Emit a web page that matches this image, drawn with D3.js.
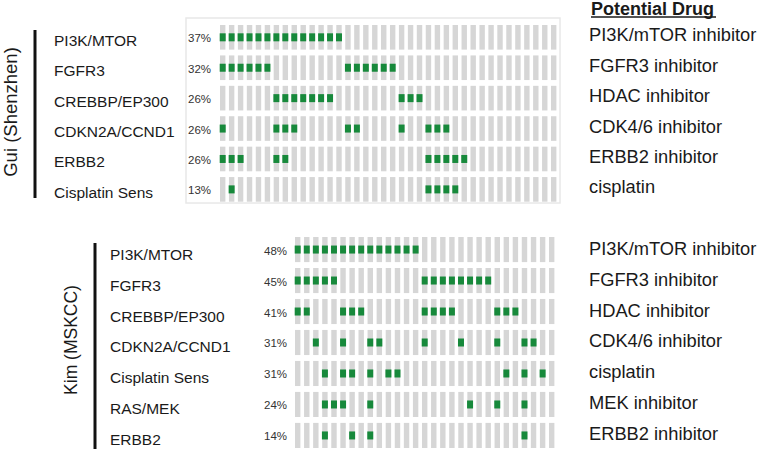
<!DOCTYPE html>
<html>
<head>
<meta charset="utf-8">
<script src="https://cdn.jsdelivr.net/npm/d3@7"></script>
<style>
  body { margin: 0; background: #fff; }
  svg { display: block; font-family: "Liberation Sans", Arial, sans-serif; }
</style>
</head>
<body>
<script>
// ---- data ----
var guiRows = ["PI3K/MTOR", "FGFR3", "CREBBP/EP300", "CDKN2A/CCND1", "ERBB2", "Cisplatin Sens"];
var guiPct = ["37%", "32%", "26%", "26%", "26%", "13%"];
var guiDrugs = ["PI3K/mTOR inhibitor", "FGFR3 inhibitor", "HDAC inhibitor", "CDK4/6 inhibitor", "ERBB2 inhibitor", "cisplatin"];
var guiN = 38;
// altered samples (column index) per row
var guiHits = [
  [0,1,2,3,4,5,6,7,8,9,10,11,12,13],
  [0,1,2,3,4,5,14,15,16,17,18,19],
  [6,7,8,9,10,11,12,20,21,22],
  [0,6,7,8,14,15,20,23,24,25],
  [0,1,2,6,7,23,24,25,26,27],
  [1,23,24,25,26]
];

var kimRows = ["PI3K/MTOR", "FGFR3", "CREBBP/EP300", "CDKN2A/CCND1", "Cisplatin Sens", "RAS/MEK", "ERBB2"];
var kimPct = ["48%", "45%", "41%", "31%", "31%", "24%", "14%"];
var kimDrugs = ["PI3K/mTOR inhibitor", "FGFR3 inhibitor", "HDAC inhibitor", "CDK4/6 inhibitor", "cisplatin", "MEK inhibitor", "ERBB2 inhibitor"];
var kimN = 29;
var kimHits = [
  [0,1,2,3,4,5,6,7,8,9,10,11,12,13],
  [0,1,2,3,4,14,15,16,17,18,19,20,21],
  [0,1,5,6,7,14,15,16,17,22,23,24],
  [2,5,8,9,14,18,22,25,26],
  [3,5,6,8,10,11,23,25,27],
  [3,4,5,8,19,22,25],
  [3,6,8,25]
];

var W = 759, H = 449;
var gray = "#d6d6d6", green = "#17893b", ink = "#1a1a1a";

var svg = d3.select("body").append("svg")
    .attr("width", W)
    .attr("height", H);

// heading on the right
svg.append("text")
    .attr("x", 591).attr("y", 15)
    .attr("font-size", 18).attr("font-weight", "bold")
    .attr("fill", ink)
    .text("Potential Drug");
svg.append("line")
    .attr("x1", 591).attr("x2", 716)
    .attr("y1", 17).attr("y2", 17)
    .attr("stroke", ink).attr("stroke-width", 1.6);

function drawPanel(p) {
    var g = svg.append("g");

    var y = d3.scaleBand()
        .domain(d3.range(p.rows.length))
        .range(p.yRange)
        .paddingInner(p.pad);
    var x = d3.scaleLinear()
        .domain([0, p.n - 1])
        .range(p.xRange);

    if (p.box) {
        g.append("rect")
            .attr("x", p.box[0]).attr("y", p.box[1])
            .attr("width", p.box[2]).attr("height", p.box[3])
            .attr("fill", "none").attr("stroke", "#e8e8e8").attr("stroke-width", 1.5);
    }

    // group bar + rotated title
    g.append("line")
        .attr("x1", p.barX).attr("x2", p.barX)
        .attr("y1", p.barY[0]).attr("y2", p.barY[1])
        .attr("stroke", "#111").attr("stroke-width", 3);
    g.append("text")
        .attr("transform", "translate(" + p.titleX + "," + p.titleY + ") rotate(-90)")
        .attr("text-anchor", "middle")
        .attr("font-size", p.titleSize)
        .attr("fill", ink)
        .text(p.title);

    var rows = g.selectAll("g.row")
        .data(p.rows)
        .enter().append("g")
        .attr("class", "row")
        .attr("transform", function (d, i) { return "translate(0," + y(i) + ")"; });

    rows.append("text")
        .attr("x", p.labelX)
        .attr("y", y.bandwidth() / 2 + p.labelDy)
        .attr("font-size", 15.5)
        .attr("fill", ink)
        .text(function (d) { return d; });

    rows.append("text")
        .attr("x", p.pctX)
        .attr("y", y.bandwidth() / 2 + p.pctDy)
        .attr("font-size", 11.5)
        .attr("fill", "#333")
        .text(function (d, i) { return p.pct[i]; });

    rows.append("text")
        .attr("x", 589)
        .attr("y", y.bandwidth() / 2 + p.drugDy)
        .attr("font-size", 18.3)
        .attr("fill", ink)
        .text(function (d, i) { return p.drugs[i]; });

    var cw = 5.4;
    rows.selectAll("rect.col")
        .data(d3.range(p.n))
        .enter().append("rect")
        .attr("class", "col")
        .attr("x", function (d) { return x(d); })
        .attr("y", 0)
        .attr("width", cw)
        .attr("height", y.bandwidth())
        .attr("fill", gray);

    rows.selectAll("rect.hit")
        .data(function (d, i) { return p.hits[i]; })
        .enter().append("rect")
        .attr("class", "hit")
        .attr("x", function (d) { return x(d) - 0.3; })
        .attr("y", y.bandwidth() / 2 - 4)
        .attr("width", cw + 0.6)
        .attr("height", 8)
        .attr("fill", green);
}

drawPanel({
    rows: guiRows, pct: guiPct, drugs: guiDrugs, hits: guiHits, n: guiN,
    yRange: [25, 201.7], pad: 0.19,
    xRange: [220, 551],
    box: [186, 18, 374, 185],
    barX: 35, barY: [30, 198],
    title: "Gui (Shenzhen)", titleX: 17, titleY: 112, titleSize: 18.5,
    labelX: 54, labelDy: 8.5,
    pctX: 188, pctDy: 5,
    drugDy: 4
});

drawPanel({
    rows: kimRows, pct: kimPct, drugs: kimDrugs, hits: kimHits, n: kimN,
    yRange: [237, 448], pad: 0.19,
    xRange: [295, 549],
    box: null,
    barX: 95, barY: [243, 449],
    title: "Kim (MSKCC)", titleX: 77, titleY: 340, titleSize: 17.5,
    labelX: 110, labelDy: 10,
    pctX: 264, pctDy: 5,
    drugDy: 5
});
</script>
</body>
</html>
